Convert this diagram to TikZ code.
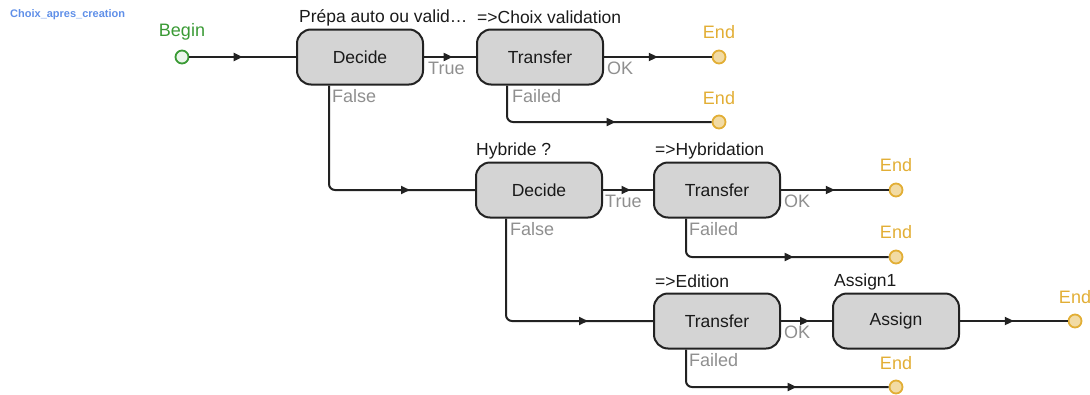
\documentclass[tikz,border=0pt]{standalone}
\usepackage{fontspec}
\setmainfont{Liberation Sans}
\usetikzlibrary{positioning, arrows.meta, decorations.markings}
\definecolor{LineDark}{HTML}{222222}
\definecolor{BoxGrey}{HTML}{D4D4D4}
\definecolor{Black90}{HTML}{1A1A1A}
\definecolor{PortGrey}{HTML}{8F8F8F}
\definecolor{BeginGreen}{HTML}{3A9A35}
\definecolor{EndGold}{HTML}{E2AE35}
\definecolor{TitleBlue}{HTML}{5F8FE8}

\begin{document}
\begin{tikzpicture}[x=1pt, y=-1pt,
    stepbox/.style={rectangle, rounded corners=14pt, draw=LineDark, fill=BoxGrey,
        line width=2pt, minimum width=126pt, minimum height=55pt, inner sep=0pt,
        font=\fontsize{17.5}{20}\selectfont, text=Black90},
    beginpt/.style={circle, draw=BeginGreen, fill=BeginGreen!10, line width=1.8pt,
        minimum size=13pt, inner sep=0pt},
    endpt/.style={circle, draw=EndGold, fill=EndGold!45, line width=1.8pt,
        minimum size=13pt, inner sep=0pt},
    flow/.style={draw=LineDark, line width=2pt, rounded corners=6pt},
    midtip/.style={postaction={decorate}, decoration={markings,
        mark=at position #1 with {\arrow{Triangle[length=9pt, width=8pt]}}}},
    toplbl/.style={font=\fontsize{17.5}{20}\selectfont, text=Black90, anchor=west, inner sep=0pt},
    outlbl/.style={font=\fontsize{18}{20}\selectfont, text=PortGrey, anchor=west, inner sep=0pt},
    ptlbl/.style={font=\fontsize{18}{20}\selectfont, inner sep=0pt}
]
\useasboundingbox (0,0) rectangle (1090,394);

\node[font=\fontsize{11}{13}\selectfont\bfseries, text=TitleBlue, anchor=west, inner sep=0pt]
    (title) at (10,15) {Choix\_apres\_creation};

% =============================================
% Row 1
% =============================================
\node[beginpt] (begin) at (182,57) {};
\node[ptlbl, text=BeginGreen] (beginlbl) at ([yshift=25pt]begin.center) {Begin};

\node[stepbox] (dec1) at (360,57) {Decide};
\node[toplbl] (dec1lbl) at ([xshift=3pt,yshift=11pt]dec1.north west) {Prépa auto ou valid…};

\node[stepbox] (tr1) at (540,57) {Transfer};
\node[toplbl] (tr1lbl) at ([xshift=1pt,yshift=11pt]tr1.north west) {=>Choix validation};

\node[endpt] (end1) at (719,57) {};
\node[ptlbl, text=EndGold] (end1lbl) at ([yshift=25pt]end1.center) {End};
\node[endpt] (end2) at (719,122) {};
\node[ptlbl, text=EndGold] (end2lbl) at ([yshift=24pt]end2.center) {End};

\draw[flow, midtip=0.5] (begin) -- (dec1);
\draw[flow, midtip=0.55] (dec1) -- (tr1);
\node[outlbl] (dec1true) at ([xshift=4pt,yshift=-11pt]dec1.east) {True};
\draw[flow, midtip=0.5] (tr1) -- (end1);
\node[outlbl] (tr1ok) at ([xshift=3pt,yshift=-11pt]tr1.east) {OK};
\draw[flow, midtip=-96pt] ([xshift=31pt]tr1.south west) |- (end2);
\node[outlbl] (tr1fail) at ([xshift=36pt,yshift=-10.5pt]tr1.south west) {Failed};

% =============================================
% Row 2
% =============================================
\node[stepbox] (dec2) at (539,190) {Decide};
\node[toplbl] (dec2lbl) at ([xshift=1pt,yshift=11pt]dec2.north west) {Hybride ?};

\node[stepbox] (tr2) at (717,190) {Transfer};
\node[toplbl] (tr2lbl) at ([xshift=2pt,yshift=11pt]tr2.north west) {=>Hybridation};

\node[endpt] (end3) at (896,190) {};
\node[ptlbl, text=EndGold] (end3lbl) at ([yshift=25pt]end3.center) {End};
\node[endpt] (end4) at (896,257) {};
\node[ptlbl, text=EndGold] (end4lbl) at ([yshift=25pt]end4.center) {End};

\draw[flow, midtip=-65pt] ([xshift=33pt]dec1.south west) |- (dec2);
\node[outlbl] (dec1false) at ([xshift=36pt,yshift=-10.5pt]dec1.south west) {False};
\draw[flow, midtip=0.55] (dec2) -- (tr2);
\node[outlbl] (dec2true) at ([xshift=2pt,yshift=-11pt]dec2.east) {True};
\draw[flow, midtip=0.5] (tr2) -- (end3);
\node[outlbl] (tr2ok) at ([xshift=3pt,yshift=-11pt]tr2.east) {OK};
\draw[flow, midtip=-95pt] ([xshift=33pt]tr2.south west) |- (end4);
\node[outlbl] (tr2fail) at ([xshift=36pt,yshift=-10.5pt]tr2.south west) {Failed};

% =============================================
% Row 3
% =============================================
\node[stepbox] (tr3) at (717,321) {Transfer};
\node[toplbl] (tr3lbl) at ([xshift=2pt,yshift=11pt]tr3.north west) {=>Edition};

\node[stepbox] (asg) at (896,321) {Assign};
\node[toplbl] (asglbl) at ([xshift=2pt,yshift=11pt]asg.north west) {Assign1};

\node[endpt] (end5) at (1075,321) {};
\node[ptlbl, text=EndGold] (end5lbl) at ([yshift=24pt]end5.center) {End};
\node[endpt] (end6) at (896,387) {};
\node[ptlbl, text=EndGold] (end6lbl) at ([yshift=24pt]end6.center) {End};

\draw[flow, midtip=-65pt] ([xshift=31pt]dec2.south west) |- (tr3);
\node[outlbl] (dec2false) at ([xshift=35pt,yshift=-10.5pt]dec2.south west) {False};
\draw[flow, midtip=0.55] (tr3) -- (asg);
\node[outlbl] (tr3ok) at ([xshift=3pt,yshift=-11pt]tr3.east) {OK};
\draw[flow, midtip=0.5] (asg) -- (end5);
\draw[flow, midtip=-92pt] ([xshift=33pt]tr3.south west) |- (end6);
\node[outlbl] (tr3fail) at ([xshift=36pt,yshift=-10.5pt]tr3.south west) {Failed};

\end{tikzpicture}
\end{document}
